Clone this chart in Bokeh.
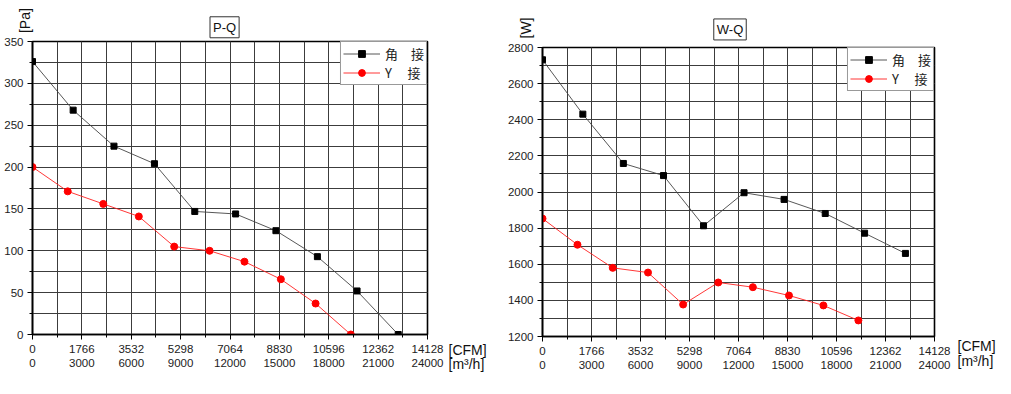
import math
from bokeh.plotting import figure
from bokeh.models import (Range1d, LinearAxis, SingleIntervalTicker, Label,
                          Legend, LegendItem)
from bokeh.layouts import row, column
from bokeh.embed import file_html
from bokeh.resources import INLINE

# ---------------- data ----------------
flow_delta = [0, 2470, 4950, 7410, 9860, 12340, 14790, 17310, 19720, 22220]   # m3/h
flow_y = [0, 2140, 4300, 6460, 8610, 10760, 12880, 15090, 17200, 19340]       # m3/h

p_delta = [326, 268, 225, 204, 147, 144, 124, 93, 52, 0]        # Pa
p_y = [200, 171, 156, 141, 105, 100, 87, 66, 37, 0]             # Pa

w_delta = [2732, 2431, 2158, 2091, 1813, 1996, 1959, 1881, 1772, 1660]  # W
w_y = [1853, 1708, 1580, 1554, 1377, 1499, 1473, 1427, 1372, 1289]      # W

m3h_ticks = [0, 3000, 6000, 9000, 12000, 15000, 18000, 21000, 24000]
cfm_labels = ["0", "1766", "3532", "5298", "7064", "8830", "10596", "12362", "14128"]
m3h_labels = ["0", "3000", "6000", "9000", "12000", "15000", "18000", "21000", "24000"]

series_names = ["角\u2003接", "Y\u2003\u2009接"]
chart_titles = ["P-Q", "W-Q"]
y_units = ["[Pa]", "[W]"]

FONT = "Liberation Sans"
CJK = "Noto Sans CJK SC"
GRID = "#3c3c3c"


def base_chart(y0, y1, y_step, d_vals, y_vals, width, height, bl, bt, br, bb):
    p = figure(width=width, height=height, output_backend="svg",
               toolbar_location=None, x_range=Range1d(0, 24000),
               y_range=Range1d(y0, y1), min_border=0,
               min_border_left=bl, min_border_top=bt,
               min_border_right=br, min_border_bottom=bb)
    p.title = None
    p.background_fill_color = "white"
    p.border_fill_color = "white"
    p.outline_line_color = "black"
    p.outline_line_width = 1.6

    xt = SingleIntervalTicker(interval=3000, num_minor_ticks=2)
    yt = SingleIntervalTicker(interval=y_step, num_minor_ticks=2)

    xa = p.xaxis[0]
    xa.ticker = xt
    xa.axis_label = None
    xa.major_label_overrides = {t: s for t, s in zip(m3h_ticks, cfm_labels)}
    xa.axis_line_color = "black"
    xa.axis_line_width = 1.6
    xa.major_tick_out = 5
    xa.major_tick_in = 0
    xa.minor_tick_out = 3
    xa.minor_tick_in = 0
    xa.major_label_standoff = 5
    xa.major_label_text_font = FONT
    xa.major_label_text_font_size = "11.5px"
    xa.major_label_text_color = "#222"

    xb = LinearAxis(ticker=xt, axis_label=None)
    xb.major_label_overrides = {t: s for t, s in zip(m3h_ticks, m3h_labels)}
    xb.axis_line_color = None
    xb.major_tick_line_color = None
    xb.minor_tick_line_color = None
    xb.major_tick_out = 0
    xb.major_tick_in = 0
    xb.minor_tick_out = 0
    xb.major_label_standoff = 3
    xb.major_label_text_font = FONT
    xb.major_label_text_font_size = "11.5px"
    xb.major_label_text_color = "#222"
    p.add_layout(xb, "below")

    ya = p.yaxis[0]
    ya.ticker = yt
    ya.axis_label = None
    ya.axis_line_color = "black"
    ya.axis_line_width = 1.6
    ya.major_tick_out = 5
    ya.major_tick_in = 0
    ya.minor_tick_out = 3
    ya.minor_tick_in = 0
    ya.major_label_standoff = 4
    ya.major_label_text_font = FONT
    ya.major_label_text_font_size = "11.5px"
    ya.major_label_text_color = "#222"

    p.xgrid.ticker = xt
    p.ygrid.ticker = yt
    for g in (p.xgrid[0], p.ygrid[0]):
        g.grid_line_color = GRID
        g.grid_line_width = 1
        g.minor_grid_line_color = GRID
        g.minor_grid_line_width = 1

    l1 = p.line(flow_delta, d_vals, line_color="#444", line_width=0.9)
    m1 = p.scatter(flow_delta, d_vals, marker="square", size=6,
                   fill_color="black", line_color="black")
    l2 = p.line(flow_y, y_vals, line_color="#ff2020", line_width=0.9)
    m2 = p.scatter(flow_y, y_vals, marker="circle", size=7,
                   fill_color="red", line_color="red")

    legend = Legend(items=[LegendItem(label=series_names[0], renderers=[l1, m1]),
                           LegendItem(label=series_names[1], renderers=[l2, m2])],
                    location="top_right", margin=0, padding=2, spacing=0,
                    glyph_width=37, glyph_height=17, label_height=17,
                    label_standoff=5, border_line_color="#333",
                    border_line_width=1, background_fill_color="white",
                    background_fill_alpha=1, label_text_font=CJK,
                    label_text_font_size="13px", label_text_color="#222")
    p.add_layout(legend)
    return p


def txt(text, x, y, size="14px", angle=0.0, align="center", box=False):
    kw = {}
    if box:
        kw = dict(border_line_color="#333", background_fill_color="white", padding=3)
    return Label(x=x, y=y, text=text, angle=angle, text_align=align,
                 text_baseline="middle", text_font=FONT, text_font_size=size,
                 text_color="#111", **kw)


p1 = base_chart(0, 350, 50, p_delta, p_y, 502, 390, 32, 41, 75, 56)
p1.add_layout(txt(chart_titles[0], 11670, 367, size="13px", box=True), "above")
p1.add_layout(txt("[CFM]", 25276, -18, align="left"), "right")
p1.add_layout(txt(y_units[0], -460, 375, angle=math.pi / 2), "right")
p1.add_layout(txt("[m³/h]", 25276, -35, align="left"), "below")

p2 = base_chart(1200, 2800, 200, w_delta, w_y, 508, 390, 40, 47, 76, 54)
p2.add_layout(txt(chart_titles[1], 11480, 2900, size="13px", box=True), "above")
p2.add_layout(txt("[CFM]", 25408, 1146, align="left"), "right")
p2.add_layout(txt(y_units[1], -998, 2908, angle=math.pi / 2), "right")
p2.add_layout(txt("[m³/h]", 25408, 1067, align="left"), "below")

layout = row(column(p1), column(p2))
open("out.html", "w").write(file_html(layout, INLINE))
